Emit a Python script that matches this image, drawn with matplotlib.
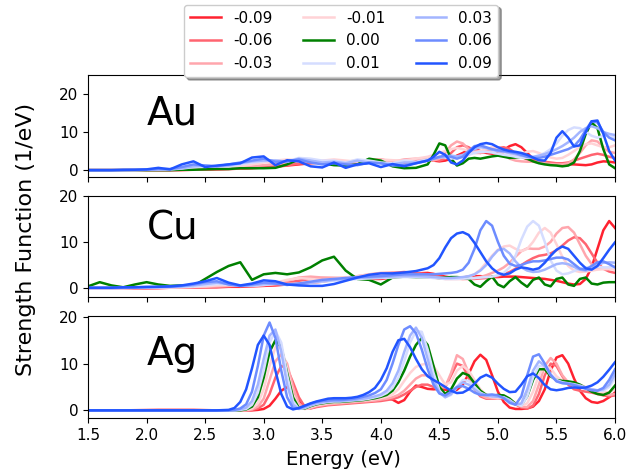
import matplotlib.pyplot as plt

energy = [1.5, 1.6, 1.7, 1.8, 1.9, 2.0, 2.1, 2.2, 2.3, 2.4,
          2.5, 2.6, 2.7, 2.8, 2.9, 3.0, 3.1, 3.2, 3.3, 3.4,
          3.5, 3.6, 3.7, 3.8, 3.9, 4.0, 4.1, 4.2, 4.3, 4.4,
          4.45, 4.5, 4.55, 4.6, 4.65, 4.7, 4.75, 4.8, 4.85, 4.9,
          4.95, 5.0, 5.05, 5.1, 5.15, 5.2, 5.25, 5.3, 5.35, 5.4,
          5.45, 5.5, 5.55, 5.6, 5.65, 5.7, 5.75, 5.8, 5.85, 5.9,
          5.95, 6.0]

energy_ag = [1.5, 1.8, 2.1, 2.4, 2.6, 2.7,
             2.75, 2.8, 2.85, 2.9, 2.95, 3.0, 3.05, 3.1, 3.15, 3.2,
             3.25, 3.3, 3.35, 3.4, 3.45, 3.5, 3.55, 3.6, 3.65, 3.7,
             3.75, 3.8, 3.85, 3.9, 3.95, 4.0, 4.05, 4.1, 4.15, 4.2,
             4.25, 4.3, 4.35, 4.4, 4.45, 4.5, 4.55, 4.6, 4.65, 4.7,
             4.75, 4.8, 4.85, 4.9, 4.95, 5.0, 5.05, 5.1, 5.15, 5.2,
             5.25, 5.3, 5.35, 5.4, 5.45, 5.5, 5.55, 5.6, 5.65, 5.7,
             5.75, 5.8, 5.85, 5.9, 5.95, 6.0]

labels = ['-0.09', '-0.06', '-0.03', '-0.01', '0.00', '0.01', '0.03', '0.06', '0.09']
colors = ['#ff2230', '#ff6470', '#ffa6ad', '#ffd3d6', '#008000',
          '#d5ddff', '#a3b5ff', '#6d8cff', '#2255ff']

# Au
au_m009 = [0, 0, 0, 0, 0, 0, 0, 0, 0, 0.1,
           0.1, 0.2, 0.3, 0.4, 0.5, 0.7, 0.9, 1.2, 1.5, 1.8,
           2.0, 2.5, 2.2, 2.0, 2.5, 2.8, 2.2, 2.0, 2.5, 2.8,
           2.5, 2.3, 2.5, 3.0, 3.8, 4.5, 5.3, 5.5, 5.0, 4.5,
           4.3, 4.5, 5.3, 6.3, 6.8, 6.0, 4.5, 3.0, 2.2, 1.8,
           1.7, 1.6, 1.5, 1.5, 1.5, 1.4, 1.3, 1.5, 2.0, 2.3,
           2.2, 2.0]
au_m006 = [0, 0, 0, 0, 0, 0, 0, 0, 0.1, 0.1,
           0.2, 0.2, 0.3, 0.4, 0.6, 0.8, 1.0, 1.3, 1.7, 2.0,
           2.3, 2.2, 2.0, 2.3, 2.6, 2.5, 2.2, 2.5, 2.8, 3.0,
           2.8, 2.5, 3.0, 4.5, 6.0, 6.5, 6.0, 5.0, 4.5, 4.8,
           5.3, 5.8, 6.0, 5.5, 4.5, 3.5, 2.8, 2.5, 2.3, 2.2,
           2.0, 1.8, 1.8, 2.0, 2.5, 3.0, 3.5, 4.0, 4.3, 4.0,
           3.5, 3.2]
au_m003 = [0, 0, 0, 0, 0, 0, 0, 0.1, 0.1, 0.2,
           0.3, 0.4, 0.5, 0.7, 1.0, 1.3, 1.6, 2.0, 2.3, 2.5,
           2.3, 2.0, 2.2, 2.5, 2.3, 2.0, 2.2, 2.8, 3.0, 2.8,
           2.5, 3.0, 4.5, 6.5, 7.5, 7.0, 5.5, 4.5, 4.5, 5.0,
           5.5, 5.0, 4.0, 3.0, 2.5, 2.3, 2.2, 2.2, 2.0, 1.8,
           1.6, 1.5, 1.5, 1.8, 2.8, 4.5, 6.5, 7.8, 7.5, 6.0,
           4.8, 4.5]
au_m001 = [0, 0, 0, 0, 0, 0, 0.1, 0.1, 0.2, 0.3,
           0.4, 0.6, 0.8, 1.0, 1.5, 2.0, 2.5, 2.8, 2.5, 2.2,
           2.5, 2.8, 2.5, 2.2, 2.5, 2.8, 2.6, 2.5, 3.0, 3.5,
           4.0, 4.5, 5.0, 5.5, 5.8, 5.5, 5.0, 4.8, 5.0, 5.5,
           6.0, 5.8, 5.0, 4.3, 4.0, 4.2, 4.8, 5.0, 4.5, 3.8,
           3.3, 3.0, 3.2, 4.0, 5.0, 6.0, 6.8, 7.0, 6.5, 6.0,
           6.0, 6.5]
au_000 = [0, 0, 0, 0, 0, 0, 0, 0, 0.1, 0.1,
          0.2, 0.3, 0.3, 0.5, 0.5, 0.5, 0.6, 1.5, 2.8, 2.5,
          1.8, 1.3, 1.2, 1.5, 3.0, 2.5, 1.0, 0.5, 0.6, 1.5,
          4.0, 7.0, 6.5, 3.0, 1.2, 1.8, 3.0, 3.2, 3.0, 3.3,
          3.6, 3.8, 3.5, 3.2, 3.3, 3.5, 3.0, 2.3, 1.8, 1.5,
          1.3, 1.2, 1.0, 1.2, 2.0, 5.0, 9.5, 12.5, 11.0, 5.5,
          1.5, 0.5]
au_001 = [0, 0, 0, 0, 0, 0.1, 0.1, 0.2, 0.4, 0.8,
          1.0, 1.0, 1.0, 1.5, 2.0, 2.3, 2.6, 2.3, 3.2, 3.0,
          2.5, 2.5, 2.0, 2.8, 2.5, 2.0, 1.8, 2.5, 2.2, 2.8,
          3.2, 3.5, 3.3, 3.0, 3.2, 3.5, 4.0, 4.5, 4.8, 4.8,
          4.6, 4.3, 4.0, 3.8, 3.5, 3.3, 3.2, 3.3, 3.8, 4.5,
          5.5, 7.0, 9.0, 10.5, 11.2, 11.0, 10.0, 9.0, 8.5, 9.0,
          9.0, 8.5]
au_003 = [0, 0, 0, 0, 0, 0.1, 0.2, 0.2, 0.5, 1.0,
          1.2, 1.0, 1.2, 1.8, 2.3, 2.5, 2.5, 2.2, 3.0, 2.5,
          2.0, 2.2, 1.8, 2.5, 2.0, 1.8, 1.5, 2.0, 2.0, 2.5,
          3.0, 3.3, 3.5, 3.8, 3.6, 4.0, 4.8, 5.5, 6.0, 5.8,
          5.3, 5.0, 4.8, 4.5, 4.2, 3.8, 3.5, 3.5, 3.8, 4.2,
          4.8, 5.5, 6.3, 7.3, 8.5, 10.0, 11.0, 11.5, 11.0, 10.0,
          9.5, 9.2]
au_006 = [0, 0, 0, 0, 0.1, 0.1, 0.3, 0.3, 0.8, 1.5,
          1.2, 1.0, 1.5, 2.0, 2.5, 3.0, 2.2, 2.3, 2.8, 2.0,
          1.5, 1.8, 1.5, 1.3, 2.0, 1.8, 1.2, 1.3, 1.8, 2.5,
          3.0, 3.5, 3.8, 3.5, 3.0, 3.5, 5.0, 6.3, 6.5, 6.0,
          5.5, 5.2, 5.0, 4.8, 4.5, 4.0, 3.5, 3.2, 3.2, 3.5,
          4.0, 4.5, 5.0, 5.5, 6.3, 8.0, 10.5, 12.8, 12.5, 10.0,
          8.5, 7.8]
au_009 = [0, 0, 0, 0.1, 0.1, 0.2, 0.6, 0.2, 1.5, 2.3,
          0.8, 1.2, 1.5, 1.8, 3.3, 3.6, 1.3, 2.6, 2.3, 1.0,
          0.7, 2.0, 0.6, 1.5, 1.8, 0.8, 1.6, 1.0, 1.8, 2.5,
          3.5, 4.8, 4.0, 2.0, 1.5, 2.5, 4.5, 6.0, 6.8, 7.1,
          6.8, 6.0, 5.4, 5.0, 4.8, 4.5, 4.0, 3.3, 2.6, 2.5,
          4.5, 8.5, 10.2, 8.5, 6.2, 6.5, 10.0, 12.8, 13.0, 9.5,
          5.0, 2.5]

# Cu
cu_m009 = [0, 0, 0, 0, 0, 0, 0, 0.1, 0.1, 0.1,
           0.2, 0.2, 0.3, 0.3, 0.4, 0.5, 0.6, 0.8, 1.0, 1.2,
           1.4, 1.8, 2.2, 2.2, 2.0, 2.0, 2.3, 2.8, 3.2, 3.3,
           3.1, 2.8, 2.5, 2.3, 2.2, 2.3, 2.5, 2.6, 2.6, 2.5,
           2.4, 2.4, 2.5, 2.5, 2.5, 2.4, 2.3, 2.2, 2.1, 2.0,
           1.8, 1.6, 1.3, 1.0, 0.8, 0.9, 2.0, 4.5, 8.5, 12.5,
           14.5, 13.0]
cu_m006 = [0, 0, 0, 0, 0, 0, 0.1, 0.1, 0.1, 0.2,
           0.2, 0.3, 0.4, 0.5, 0.5, 0.6, 0.8, 1.2, 1.6, 2.0,
           2.2, 2.2, 2.1, 2.2, 2.5, 2.9, 3.3, 3.5, 3.3, 3.0,
           2.7, 2.5, 2.3, 2.2, 2.1, 2.0, 2.0, 2.0, 2.1, 2.2,
           2.4, 2.6, 3.0, 3.5, 4.2, 5.0, 5.8, 6.5, 7.0, 7.2,
           7.5, 8.2, 9.2, 10.3, 11.0, 10.8, 9.5, 7.5, 5.5, 4.2,
           3.6, 3.3]
cu_m003 = [0, 0, 0, 0, 0, 0.1, 0.1, 0.1, 0.2, 0.2,
           0.3, 0.4, 0.5, 0.6, 0.6, 0.7, 1.0, 1.6, 2.3, 2.5,
           2.3, 2.2, 2.3, 2.6, 3.0, 3.3, 3.4, 3.2, 2.8, 2.5,
           2.3, 2.1, 2.0, 2.0, 2.0, 2.0, 2.1, 2.2, 2.4, 2.8,
           3.3, 3.8, 4.5, 5.5, 6.8, 8.0, 8.6, 8.5, 8.5, 9.0,
           10.0, 11.8, 13.0, 13.2, 12.0, 9.5, 7.0, 5.2, 4.3, 4.2,
           4.4, 4.6]
cu_m001 = [0, 0, 0, 0, 0.1, 0.1, 0.1, 0.2, 0.2, 0.3,
           0.4, 0.6, 0.7, 0.6, 0.6, 0.8, 1.2, 1.8, 2.2, 2.0,
           1.8, 2.0, 2.3, 2.6, 2.9, 3.1, 3.0, 2.8, 2.6, 2.4,
           2.3, 2.2, 2.1, 2.1, 2.2, 2.3, 2.5, 3.0, 4.0, 5.5,
           7.0, 8.3, 9.0, 9.2, 8.5, 8.0, 8.5, 10.0, 12.0, 13.0,
           12.0, 9.5, 6.8, 4.8, 3.8, 3.5, 3.6, 3.8, 4.0, 4.1,
           4.1, 4.0]
cu_000 = [0.4, 1.3, 0.6, 0.2, 0.8, 1.3, 0.8, 0.5, 0.6, 0.5,
          2.0, 3.5, 4.8, 5.6, 1.8, 3.0, 3.3, 3.0, 3.4, 4.5,
          6.0, 6.8, 3.8, 2.0, 1.8, 0.8, 2.3, 2.5, 2.4, 2.4,
          2.3, 2.2, 2.3, 2.4, 2.4, 2.3, 2.0, 0.8, 0.3, 1.5,
          2.5, 0.8, 0.2, 1.5, 2.4, 1.2, 0.3, 1.8, 2.3, 0.8,
          0.4, 2.0, 2.3, 0.8, 0.5, 2.0, 2.3, 1.0, 0.8, 1.2,
          1.3, 1.3]
cu_001 = [0, 0, 0, 0, 0.1, 0.1, 0.2, 0.2, 0.3, 0.4,
          0.6, 0.9, 0.8, 0.5, 0.5, 0.7, 0.9, 0.9, 1.0, 1.2,
          1.4, 1.6, 1.8, 2.0, 2.1, 2.2, 2.3, 2.4, 2.4, 2.3,
          2.2, 2.1, 2.0, 2.0, 2.0, 2.1, 2.1, 2.2, 2.3, 2.4,
          2.5, 2.8, 3.3, 4.5, 7.0, 10.5, 13.3, 14.5, 13.5, 10.0,
          6.0, 3.8, 3.0, 3.2, 3.7, 4.2, 4.5, 4.6, 4.6, 4.5,
          4.5, 4.5]
cu_003 = [0, 0, 0, 0.1, 0.1, 0.2, 0.2, 0.3, 0.4, 0.6,
          0.9, 1.2, 0.9, 0.5, 0.6, 0.9, 1.0, 0.8, 0.9, 1.2,
          1.5, 1.8, 2.0, 2.2, 2.3, 2.4, 2.5, 2.6, 2.6, 2.5,
          2.4, 2.3, 2.2, 2.2, 2.3, 2.4, 2.6, 3.0, 3.8, 5.0,
          6.8, 8.2, 8.5, 7.5, 5.8, 4.5, 3.8, 3.5, 3.6, 4.0,
          4.6, 5.2, 5.4, 5.2, 4.6, 4.0, 3.8, 4.2, 5.0, 5.5,
          5.6, 5.5]
cu_006 = [0.1, 0.1, 0.1, 0.1, 0.2, 0.2, 0.3, 0.3, 0.5, 0.8,
          1.3, 1.5, 0.8, 0.5, 0.8, 1.2, 1.0, 0.7, 1.0, 1.4,
          1.8, 2.0, 2.2, 2.4, 2.5, 2.6, 2.8, 3.0, 3.0, 3.0,
          3.0, 3.1, 3.2, 3.3, 3.5, 4.0, 5.5, 8.5, 12.5, 14.5,
          13.5, 10.0, 7.0, 5.3, 4.8, 5.0, 5.5, 5.8, 5.8, 6.0,
          6.3, 6.6, 6.6, 6.2, 5.2, 4.2, 4.0, 4.8, 5.6, 5.8,
          5.2, 4.5]
cu_009 = [0.1, 0.1, 0.1, 0.2, 0.2, 0.3, 0.3, 0.4, 0.6, 1.0,
          1.5, 2.2, 1.2, 0.6, 1.0, 1.7, 1.5, 0.8, 0.6, 0.5,
          0.5, 0.9, 1.6, 2.3, 2.9, 3.2, 3.2, 3.4, 3.7, 4.3,
          5.0, 6.5, 8.8, 10.8, 11.8, 12.1, 11.5, 9.8, 7.8, 5.8,
          4.3, 3.3, 2.9, 3.2, 4.0, 4.5, 4.3, 4.0, 4.3, 5.5,
          7.0, 8.3, 9.0, 8.5, 7.0, 5.5, 4.3, 4.0, 4.8, 6.5,
          8.3, 9.9]

# Ag
ag_m009 = [0, 0, 0.1, 0.1, 0, 0,
           0, 0, 0, 0, 0.1, 0.3, 1.0, 2.5, 4.2, 5.0,
           4.0, 2.2, 0.8, 0.5, 0.8, 1.2, 1.5, 1.7, 1.8, 1.9,
           2.0, 2.0, 2.0, 2.1, 2.3, 2.5, 2.6, 2.3, 1.6, 2.2,
           4.0, 5.3, 5.0, 4.6, 4.5, 4.6, 4.4, 4.2, 4.4, 5.5,
           7.8, 10.5, 11.9, 10.8, 7.5, 4.0, 1.8, 0.6, 0.3, 0.3,
           0.4, 0.8, 2.0, 4.5, 8.5, 11.3, 11.8, 10.0, 6.8, 4.2,
           2.6, 1.8, 1.6, 2.0, 2.8, 3.8]
ag_m006 = [0, 0, 0, 0, 0, 0,
           0, 0, 0, 0.1, 0.4, 1.2, 3.5, 7.0, 9.5, 9.0,
           6.0, 2.8, 0.8, 0.4, 0.7, 0.9, 1.1, 1.2, 1.3, 1.4,
           1.5, 1.6, 1.7, 1.8, 1.9, 2.0, 2.2, 2.4, 2.8, 3.4,
           4.2, 5.0, 5.5, 5.5, 5.0, 4.5, 5.0, 7.5, 10.0, 9.5,
           7.0, 4.5, 3.0, 2.5, 2.5, 2.6, 2.5, 2.2, 1.3, 0.6,
           0.4, 1.0, 3.5, 7.5, 10.0, 9.5, 7.3, 5.5, 4.5, 4.2,
           4.0, 3.8, 3.5, 3.2, 3.0, 3.2]
ag_m003 = [0, 0, 0, 0, 0, 0,
           0, 0, 0, 0.2, 0.8, 2.5, 6.5, 10.5, 12.0, 10.0,
           5.0, 1.5, 0.3, 0.5, 0.9, 1.1, 1.3, 1.4, 1.5, 1.6,
           1.7, 1.8, 1.9, 2.0, 2.1, 2.3, 2.5, 2.8, 3.3, 4.2,
           5.5, 6.8, 7.5, 7.5, 6.5, 5.0, 5.0, 8.0, 11.8, 11.0,
           8.0, 5.0, 3.3, 2.7, 2.6, 2.7, 2.7, 2.4, 1.5, 0.8,
           0.7, 2.0, 5.5, 9.5, 11.2, 10.0, 7.5, 6.0, 5.3, 5.0,
           4.8, 4.5, 4.0, 3.6, 3.3, 3.5]
ag_m001 = [0, 0, 0, 0, 0, 0,
           0, 0, 0.1, 0.4, 1.5, 4.5, 9.5, 13.5, 13.5, 9.0,
           3.5, 0.8, 0.3, 0.7, 1.1, 1.3, 1.5, 1.6, 1.7, 1.8,
           1.9, 2.0, 2.1, 2.2, 2.4, 2.6, 2.9, 3.4, 4.5, 6.3,
           8.0, 9.3, 9.8, 10.0, 9.5, 7.5, 5.5, 6.0, 8.5, 9.5,
           8.5, 6.5, 4.5, 3.3, 2.8, 2.7, 2.7, 2.3, 1.5, 1.0,
           1.5, 4.0, 7.5, 9.5, 9.0, 7.3, 6.3, 6.0, 5.8, 5.5,
           5.0, 4.5, 4.1, 3.8, 3.9, 4.5]
ag_000 = [0, 0, 0, 0, 0, 0,
          0, 0, 0.2, 0.8, 2.8, 7.0, 12.5, 15.0, 13.5, 8.0,
          2.8, 0.5, 0.4, 0.9, 1.3, 1.5, 1.7, 1.8, 1.8, 1.9,
          2.0, 2.1, 2.2, 2.4, 2.6, 2.9, 3.3, 4.2, 6.0, 8.5,
          11.5, 14.0, 15.5, 14.0, 9.5, 5.0, 3.5, 4.5, 6.8, 8.0,
          7.5, 5.8, 4.2, 3.3, 3.1, 3.3, 3.2, 2.5, 1.4, 1.2,
          3.0, 6.5, 8.8, 8.8, 7.3, 6.5, 6.3, 6.2, 6.0, 5.5,
          4.8, 4.0, 3.5, 3.3, 3.8, 5.3]
ag_001 = [0, 0, 0, 0, 0, 0,
          0, 0.1, 0.3, 1.2, 3.8, 8.5, 14.5, 17.0, 14.5, 7.5,
          2.0, 0.3, 0.5, 1.0, 1.4, 1.6, 1.8, 1.9, 1.9, 2.0,
          2.1, 2.2, 2.3, 2.5, 2.8, 3.1, 3.7, 4.8, 7.0, 10.5,
          14.5, 17.0, 16.8, 13.0, 8.0, 4.3, 2.8, 3.3, 5.0, 6.5,
          6.3, 5.0, 3.8, 3.2, 3.0, 2.9, 2.8, 2.2, 1.3, 1.0,
          3.0, 7.0, 9.5, 9.5, 7.8, 6.5, 6.0, 5.8, 5.6, 5.3,
          4.9, 4.5, 4.2, 4.2, 5.0, 7.0]
ag_003 = [0, 0, 0, 0, 0, 0,
          0, 0.2, 0.6, 2.0, 5.5, 11.0, 16.0, 17.3, 12.5, 5.5,
          1.2, 0.3, 0.6, 1.1, 1.5, 1.7, 1.9, 2.0, 2.0, 2.1,
          2.2, 2.3, 2.5, 2.7, 3.0, 3.4, 4.2, 5.8, 8.5, 12.5,
          16.0, 17.7, 15.5, 11.0, 6.5, 3.8, 2.8, 3.5, 5.0, 6.0,
          5.5, 4.5, 3.6, 3.2, 3.0, 2.9, 2.7, 2.0, 1.2, 1.5,
          4.5, 8.5, 10.5, 9.5, 7.5, 6.3, 5.9, 5.7, 5.5, 5.2,
          4.8, 4.5, 4.3, 4.5, 5.5, 7.8]
ag_006 = [0, 0, 0, 0, 0, 0,
          0.1, 0.4, 1.3, 4.0, 9.5, 16.0, 18.8, 15.5, 8.5, 2.8,
          0.5, 0.4, 0.9, 1.4, 1.8, 2.0, 2.1, 2.2, 2.2, 2.3,
          2.4, 2.6, 2.9, 3.2, 3.7, 4.5, 6.5, 10.0, 14.0, 17.3,
          18.0, 16.5, 13.0, 8.8, 5.5, 3.6, 3.2, 4.0, 5.0, 5.2,
          4.6, 3.8, 3.3, 3.3, 3.4, 3.2, 2.6, 1.6, 1.2, 3.0,
          7.5, 11.5, 12.0, 10.0, 7.6, 6.2, 5.8, 5.7, 5.4, 5.0,
          4.6, 4.3, 4.2, 4.8, 6.5, 8.8]
ag_009 = [0, 0, 0, 0, 0, 0.1,
          0.5, 1.8, 4.5, 9.0, 14.0, 16.0, 14.0, 8.5, 3.5, 0.8,
          0.2, 0.5, 1.0, 1.5, 1.9, 2.2, 2.5, 2.6, 2.6, 2.6,
          2.7, 2.9, 3.3, 3.9, 4.8, 6.5, 9.0, 12.5, 15.0, 15.3,
          13.5, 11.0, 8.8, 7.3, 6.5, 5.8, 5.0, 4.2, 3.7, 3.8,
          4.5, 5.7, 7.0, 7.6, 7.0, 5.7, 4.6, 3.9, 4.0, 5.5,
          7.3, 7.9, 6.9, 5.4, 4.5, 4.3, 4.5, 4.8, 4.9, 4.8,
          4.9, 5.3, 6.0, 7.2, 8.7, 10.3]

panels = [
    ('Au', energy, [au_m009, au_m006, au_m003, au_m001, au_000, au_001, au_003, au_006, au_009],
     (-1.7, 25.0), 12.0),
    ('Cu', energy, [cu_m009, cu_m006, cu_m003, cu_m001, cu_000, cu_001, cu_003, cu_006, cu_009],
     (-2.0, 20.0), 10.5),
    ('Ag', energy_ag, [ag_m009, ag_m006, ag_m003, ag_m001, ag_000, ag_001, ag_003, ag_006, ag_009],
     (-1.7, 20.1), 9.6),
]

fig, axes = plt.subplots(3, 1, sharex=True, figsize=(6.38, 4.70), dpi=100)
fig.subplots_adjust(left=0.138, right=0.964, bottom=0.11, top=0.841, hspace=0.186)

for ax, (name, x, curves, ylim, ty) in zip(axes, panels):
    for y, lab, c in zip(curves, labels, colors):
        ax.plot(x, y, color=c, lw=1.8, label=lab)
    ax.set_ylim(*ylim)
    ax.set_yticks([0, 10, 20])
    ax.tick_params(labelsize=11)
    ax.text(2.0, ty, name, fontsize=28)

axes[0].set_xlim(1.5, 6.0)

# common axis labels sit on the figure, not on one panel
fig.text(0.538, 0.022, 'Energy (eV)', ha='center', va='center', fontsize=14)
fig.text(0.04, 0.49, 'Strength Function (1/eV)', ha='center', va='center',
         rotation=90, fontsize=16)

handles, labs = axes[0].get_legend_handles_labels()
fig.legend(handles, labs, ncol=3, loc='upper center', bbox_to_anchor=(0.535, 0.99),
           fontsize=11, shadow=True, borderaxespad=0)

fig.savefig('out.png', dpi=100)
